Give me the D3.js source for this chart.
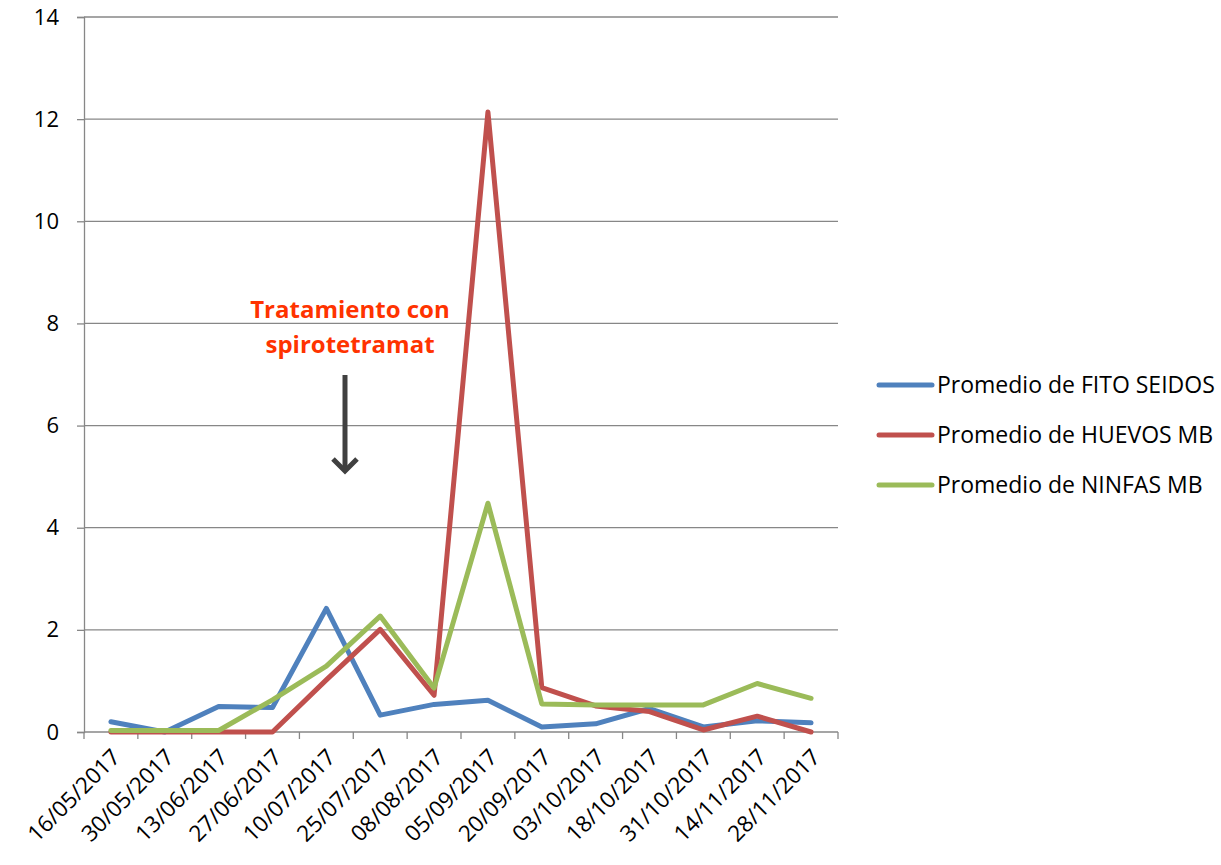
<!DOCTYPE html>
<html>
<head>
<meta charset="utf-8">
<script src="https://cdn.jsdelivr.net/npm/d3@7"></script>
<style>
  html, body { margin: 0; padding: 0; background: #fff; }
  svg { display: block; font-family: "Open Sans", Lato, sans-serif; }
</style>
</head>
<body>
<svg id="chart" width="1221" height="865"></svg>
<script>
const categories = ["16/05/2017","30/05/2017","13/06/2017","27/06/2017","10/07/2017","25/07/2017","08/08/2017","05/09/2017","20/09/2017","03/10/2017","18/10/2017","31/10/2017","14/11/2017","28/11/2017"];
const fitoSeidos = [0.20, 0.00, 0.50, 0.48, 2.42, 0.33, 0.54, 0.62, 0.10, 0.16, 0.46, 0.10, 0.22, 0.18];
const huevosMB   = [0.00, 0.00, 0.00, 0.00, 1.02, 2.01, 0.72, 12.14, 0.87, 0.51, 0.40, 0.04, 0.31, 0.00];
const ninfasMB   = [0.03, 0.03, 0.03, 0.63, 1.29, 2.27, 0.86, 4.48, 0.55, 0.53, 0.53, 0.53, 0.95, 0.66];
const seriesNames = ["Promedio de FITO SEIDOS", "Promedio de HUEVOS MB", "Promedio de NINFAS MB"];
const yTicks = [0, 2, 4, 6, 8, 10, 12, 14];
const annotationLines = ["Tratamiento con", "spirotetramat"];

const colors = ["#4F81BD", "#C0504D", "#9BBB59"];
const seriesData = [fitoSeidos, huevosMB, ninfasMB];

const svg = d3.select("#chart");
const mLeft = 84, mRight = 838, mTop = 17, mBottom = 732;

const x = d3.scaleBand().domain(categories).range([mLeft, mRight]).paddingInner(0).paddingOuter(0);
const y = d3.scaleLinear().domain([0, 14]).range([mBottom, mTop]);
const cx = d => x(d) + x.bandwidth() / 2;

// gridlines
svg.append("g").selectAll("line").data(yTicks.filter(t => t > 0)).join("line")
  .attr("x1", mLeft).attr("x2", mRight)
  .attr("y1", d => y(d)).attr("y2", d => y(d))
  .attr("stroke", "#878787").attr("stroke-width", 1.3);

// y axis
const yAxis = svg.append("g").attr("transform", `translate(${mLeft},0)`)
  .call(d3.axisLeft(y).tickValues(yTicks).tickSize(7).tickPadding(18).tickFormat(d3.format("d")));
yAxis.select(".domain").attr("stroke", "#878787").attr("stroke-width", 1.3);
yAxis.selectAll(".tick line").attr("stroke", "#878787").attr("stroke-width", 1.3);
yAxis.selectAll(".tick text").attr("font-size", 22).attr("fill", "#000").attr("font-family", "'Open Sans', sans-serif");

// x axis
const tickPositions = d3.range(categories.length + 1).map(i => mLeft + i * x.bandwidth());
const xAxisG = svg.append("g").attr("transform", `translate(0,${mBottom})`);
xAxisG.append("line").attr("x1", mLeft).attr("x2", mRight).attr("stroke", "#878787").attr("stroke-width", 1.3);
xAxisG.selectAll("line.tk").data(tickPositions).join("line").attr("class", "tk")
  .attr("x1", d => d).attr("x2", d => d).attr("y1", 0).attr("y2", 7)
  .attr("stroke", "#878787").attr("stroke-width", 1.3);
xAxisG.selectAll("text").data(categories).join("text")
  .attr("transform", d => `translate(${cx(d) + 5},${21}) rotate(-45)`)
  .attr("text-anchor", "end")
  .attr("dy", "0.35em")
  .attr("font-size", 22.5)
  .attr("fill", "#000")
  .text(d => d);

// lines
const line = d3.line().x((d, i) => cx(categories[i])).y(d => y(d));
svg.append("g").selectAll("path").data(seriesData).join("path")
  .attr("d", d => line(d))
  .attr("fill", "none")
  .attr("stroke", (d, i) => colors[i])
  .attr("stroke-width", 5)
  .attr("stroke-linejoin", "round")
  .attr("stroke-linecap", "round");

// annotation
const ann = svg.append("g");
ann.selectAll("text").data(annotationLines).join("text")
  .attr("x", 350).attr("y", (d, i) => 318 + i * 35)
  .attr("text-anchor", "middle")
  .attr("font-size", 24).attr("font-weight", "bold")
  .attr("fill", "#FF3300")
  .text(d => d);
ann.append("line").attr("x1", 345).attr("x2", 345).attr("y1", 375).attr("y2", 471)
  .attr("stroke", "#404040").attr("stroke-width", 5);
ann.append("path").attr("d", `M${345 - 12},${459} L${345},${471} L${345 + 12},${459}`)
  .attr("fill", "none").attr("stroke", "#404040").attr("stroke-width", 5);

// legend
const legend = svg.append("g");
const ly = [385, 435, 485];
seriesNames.forEach((n, i) => {
  legend.append("line").attr("x1", 879).attr("x2", 932).attr("y1", ly[i]).attr("y2", ly[i])
    .attr("stroke", colors[i]).attr("stroke-width", 5).attr("stroke-linecap", "round");
  legend.append("text").attr("x", 937).attr("y", ly[i]).attr("dy", "0.35em")
    .attr("font-size", 23).attr("fill", "#000").text(n);
});
</script>
</body>
</html>
